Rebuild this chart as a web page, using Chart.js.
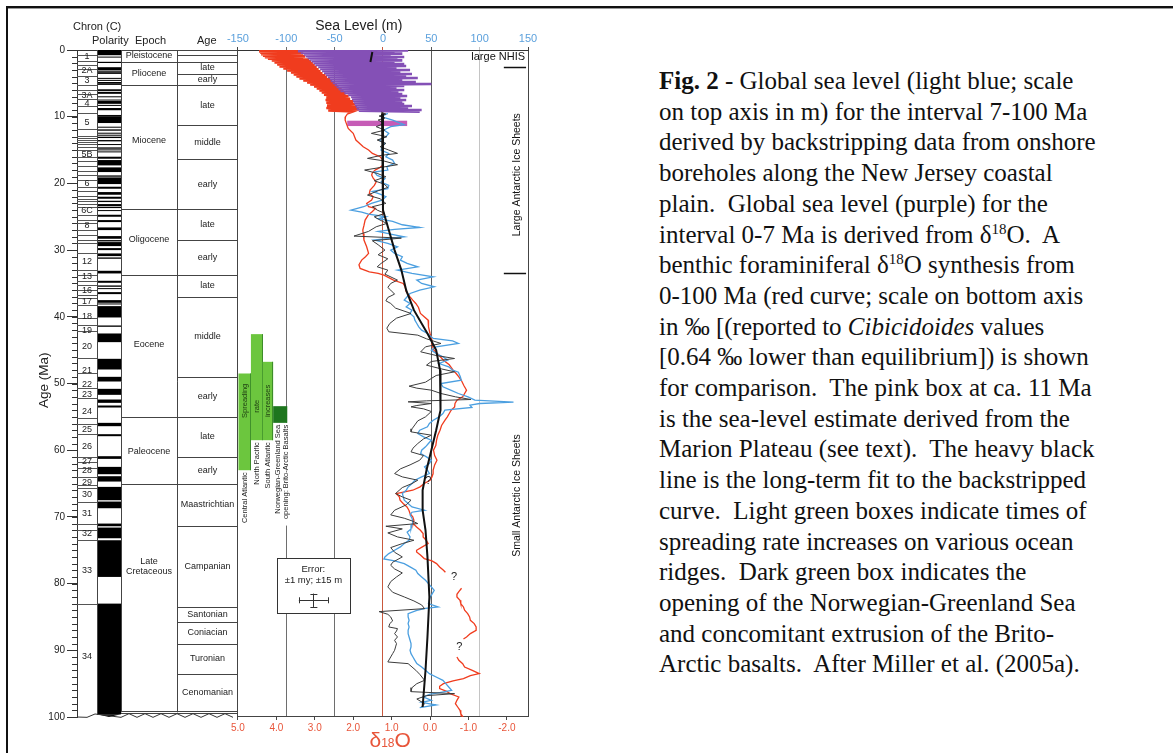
<!DOCTYPE html>
<html lang="en">
<head>
<meta charset="UTF-8">
<title>Global sea level and benthic d18O, 0-100 Ma</title>
<script src="https://cdn.jsdelivr.net/npm/chart.js"></script>
<style>
    body {
        margin: 0;
        background: #fff;
        width: 1173px;
        height: 753px;
        overflow: hidden;
        position: relative;
        font-family: "Liberation Sans", Arial, sans-serif;
    }
    #frame-top {
        position: absolute; left: 6px; top: 6px; width: 1167px; height: 2px; background: #111;
        border-bottom: 1px solid #999;
    }
    #frame-left {
        position: absolute; left: 6px; top: 6px; width: 2px; height: 747px; background: #111;
    }
    #chart-box {
        position: absolute; left: 0; top: 0; width: 620px; height: 753px;
    }
    #caption {
        position: absolute;
        left: 659px;
        top: 66px;
        font-family: "Liberation Serif", "Times New Roman", serif;
        font-size: 25px;
        line-height: 30.7px;
        color: #111;
        white-space: nowrap;
    }
    #caption sup {
        font-size: 15px;
        line-height: 0;
        vertical-align: 9px;
    }
</style>
</head>
<body>
<div id="frame-top"></div>
<div id="frame-left"></div>
<div id="chart-box"><canvas id="chart"></canvas></div>

<div id="caption">
<b>Fig. 2</b> - Global sea level (light blue; scale<br>
on top axis in m) for the interval 7-100 Ma<br>
derived by backstripping data from onshore<br>
boreholes along the New Jersey coastal<br>
plain.&nbsp; Global sea level (purple) for the<br>
interval 0-7 Ma is derived from &delta;<sup>18</sup>O.&nbsp; A<br>
benthic foraminiferal &delta;<sup>18</sup>O synthesis from<br>
0-100 Ma (red curve; scale on bottom axis<br>
in &permil; [(reported to <i>Cibicidoides</i> values<br>
[0.64 &permil; lower than equilibrium]) is shown<br>
for comparison.&nbsp; The pink box at ca. 11 Ma<br>
is the sea-level estimate derived from the<br>
Marion Plateau (see text).&nbsp; The heavy black<br>
line is the long-term fit to the backstripped<br>
curve.&nbsp; Light green boxes indicate times of<br>
spreading rate increases on various ocean<br>
ridges.&nbsp; Dark green box indicates the<br>
opening of the Norwegian-Greenland Sea<br>
and concomitant extrusion of the Brito-<br>
Arctic basalts.&nbsp; After Miller et al. (2005a).
</div>

<script>
// ---------- axis ticks ----------
const ageTicks = [0, 10, 20, 30, 40, 50, 60, 70, 80, 90, 100];
const seaTicks = [-150, -100, -50, 0, 50, 100, 150];
const d18OTicks = [5, 4, 3, 2, 1, 0, -1, -2];

// ---------- time scale (Ma) ----------
const epochNames = ['Pleistocene', 'Pliocene', 'Miocene', 'Oligocene', 'Eocene', 'Paleocene', 'Late|Cretaceous'];
const epochBounds = [0, 1.8, 5.3, 23.8, 33.7, 55.0, 65.0, 99.1];
const epochLabelAge = [0.9, 3.55, 13.6, 28.4, 44.2, 60.2, 77.4];

const stageNames = ['', '', 'late', 'early', 'late', 'middle', 'early', 'late', 'early', 'late', 'middle',
    'early', 'late', 'early', 'Maastrichtian', 'Campanian', 'Santonian', 'Coniacian', 'Turonian', 'Cenomanian'];
const stageBounds = [0, 0.8, 1.8, 3.6, 5.3, 11.2, 16.4, 23.8, 28.5, 33.7, 37.0, 49.0, 55.0, 61.0, 65.0,
    71.3, 83.5, 85.8, 89.0, 93.5, 99.1];

const chronNames = ['1', '2A', '3', '3A', '4', '5', '5B', '6', '6C', '8', '12', '13', '16', '17', '18', '19',
    '20', '21', '22', '23', '24', '25', '26', '27', '28', '29', '30', '31', '32', '33', '34'];
const chronLabelAge = [1.0, 3.15, 4.65, 6.75, 8.0, 10.9, 15.6, 20.0, 24.1, 26.3, 31.7, 33.9, 36.0, 37.7, 39.9,
    42.0, 44.5, 48.0, 50.1, 51.6, 54.2, 56.9, 59.5, 61.7, 63.1, 64.9, 66.7, 69.5, 72.5, 78.1, 91.0];
const chronLines = [0.7, 1.7, 2.3, 2.8, 3.9, 5.3, 6.0, 6.6, 7.4, 8.4, 9.5, 11.8, 12.9, 13.2, 13.5, 13.8, 14.1,
    14.5, 15.0, 16.0, 16.7, 17.4, 18.1, 18.8, 19.5, 20.6, 21.2, 21.9, 22.4, 22.7, 23.1, 23.6, 24.7, 25.5, 25.9,
    27.0, 27.7, 28.5, 29.0, 30.5, 33.0, 33.7, 34.7, 35.2, 36.0, 36.7, 37.2, 38.2, 40.2, 41.2, 42.2, 46.2, 48.5,
    50.7, 52.2, 55.2, 56.0, 57.5, 61.0, 61.7, 62.7, 64.0, 65.2, 65.7, 67.7, 71.0, 72.0, 73.5, 83.0];
// normal polarity intervals (black)
const normalPolarity = [[0, 0.78], [0.99, 1.07], [1.77, 1.95], [2.58, 3.04], [3.11, 3.22], [3.33, 3.58],
    [4.18, 4.29], [4.48, 4.62], [4.80, 4.89], [4.98, 5.23], [5.89, 6.14], [6.27, 6.57], [6.94, 7.09],
    [7.43, 7.56], [7.65, 8.07], [8.23, 8.26], [8.70, 9.03], [9.74, 9.88], [9.92, 10.95], [11.5, 11.6],
    [11.9, 12.1], [12.4, 12.5], [12.7, 12.8], [13.0, 13.2], [13.5, 13.7], [14.1, 14.2], [14.6, 14.8],
    [14.9, 15.0], [15.2, 15.3], [16.0, 16.3], [16.5, 17.3], [17.6, 18.3], [18.8, 19.0], [19.1, 20.1],
    [20.5, 20.8], [21.3, 21.7], [22.0, 22.3], [22.6, 22.8], [23.1, 23.4], [23.5, 23.7], [24.0, 24.1],
    [24.7, 25.0], [25.5, 25.8], [26.6, 27.0], [27.9, 28.3], [28.5, 28.7], [28.8, 29.4], [29.7, 30.0],
    [30.5, 30.9], [31.1, 31.3], [33.1, 33.5], [34.6, 34.9], [35.3, 35.5], [35.7, 35.8], [36.3, 36.6],
    [37.5, 37.9], [38.0, 38.1], [38.4, 40.1], [41.3, 41.5], [42.5, 43.8], [46.3, 47.9], [49.0, 49.7],
    [50.8, 51.7], [52.4, 52.9], [53.3, 53.6], [55.9, 56.4], [57.6, 57.9], [60.9, 61.3], [62.5, 63.6],
    [63.9, 64.7], [65.5, 67.5], [67.7, 68.7], [71.0, 71.4], [71.6, 73.2], [73.5, 79.0], [83.0, 99.6]];

// ---------- curves: [age Ma, value] ----------
// purple: sea level (m) 0-9 Ma from d18O
const seaLevelPurple = [[0.0, -60], [0.08, 26], [0.18, -88], [0.3, 12], [0.42, -85], [0.55, 20], [0.68, -82],
    [0.8, 8], [0.92, -80], [1.05, 22], [1.18, -78], [1.3, 15], [1.42, -76], [1.55, 20], [1.68, -74], [1.82, 12],
    [1.95, -72], [2.1, 22], [2.25, -70], [2.4, 24], [2.55, -67], [2.7, 14], [2.85, -65], [3.0, 28], [3.15, -63],
    [3.3, 18], [3.45, -61], [3.6, 30], [3.75, -59], [3.9, 24], [4.05, -57], [4.2, 36], [4.35, -55], [4.5, 20],
    [4.65, -54], [4.8, 34], [4.95, -52], [5.1, 50], [5.25, -50], [5.4, 22], [5.55, -48], [5.7, 14], [5.85, -46],
    [6.0, 22], [6.15, -44], [6.3, 16], [6.45, -40], [6.6, 20], [6.75, -36], [6.9, 25], [7.05, -33], [7.2, 18],
    [7.35, -32], [7.5, 24], [7.65, -31], [7.8, 20], [7.95, -30], [8.1, 22], [8.25, -29], [8.4, 30], [8.55, -28],
    [8.7, 26], [8.85, -27], [9.0, 40], [9.1, -25], [9.25, 38]];

// red: benthic d18O (per mil)
const benthicO18 = [[0.0, 4.45], [0.1, 3.4], [0.2, 4.45], [0.3, 3.35], [0.42, 4.42], [0.52, 3.3], [0.62, 4.4],
    [0.72, 3.4], [0.85, 4.35], [0.95, 3.25], [1.08, 4.3], [1.2, 3.3], [1.32, 4.22], [1.45, 3.15], [1.58, 4.12],
    [1.7, 3.1], [1.85, 4.05], [2.0, 3.05], [2.15, 3.98], [2.3, 3.0], [2.45, 3.92], [2.6, 2.95], [2.75, 3.82],
    [2.9, 2.9], [3.05, 3.72], [3.2, 2.85], [3.35, 3.62], [3.5, 2.8], [3.65, 3.55], [3.8, 2.72], [3.95, 3.48],
    [4.1, 2.68], [4.25, 3.4], [4.4, 2.6], [4.55, 3.3], [4.7, 2.55], [4.85, 3.2], [5.0, 2.48], [5.15, 3.12],
    [5.3, 2.42], [5.45, 3.02], [5.6, 2.38], [5.75, 2.95], [5.9, 2.3], [6.05, 2.88], [6.2, 2.25], [6.35, 2.82],
    [6.5, 2.2], [6.7, 2.76], [6.9, 2.12], [7.1, 2.7], [7.3, 2.08], [7.5, 2.72], [7.7, 2.0], [7.9, 2.7],
    [8.1, 1.95], [8.3, 2.68], [8.5, 1.9], [8.7, 2.7], [8.9, 1.85], [9.05, 2.65], [9.2, 2.0],
    [9.5, 2.14], [10.0, 2.2], [10.5, 2.21], [11.0, 2.18], [11.75, 2.13], [12.5, 2.0], [13.5, 1.93], [14.5, 1.74],
    [15.0, 1.6], [15.5, 1.5], [16.0, 1.3], [16.6, 1.22], [17.25, 1.22], [17.6, 1.3], [18.0, 1.43], [18.4, 1.5],
    [18.75, 1.52], [19.2, 1.48], [19.75, 1.4], [20.3, 1.45], [21.0, 1.56], [21.5, 1.58], [22.0, 1.48],
    [22.5, 1.52], [23.0, 1.65], [23.5, 1.6], [23.75, 1.42], [24.2, 1.5], [24.75, 1.61], [25.5, 1.69],
    [26.3, 1.72], [27.0, 1.75], [27.5, 1.74], [28.5, 1.72], [29.5, 1.65], [30.5, 1.6], [31.0, 1.68],
    [31.5, 1.78], [32.2, 1.85], [32.75, 1.82], [33.25, 1.58], [33.5, 1.35], [33.75, 1.2], [34.2, 1.05],
    [34.5, 0.95], [35.0, 0.7], [35.5, 0.65], [36.25, 0.62], [37.0, 0.52], [37.5, 0.45], [38.0, 0.37],
    [38.6, 0.3], [39.5, 0.25], [40.5, 0.05], [41.5, 0.04], [42.5, 0.0], [43.5, -0.05], [44.2, -0.05],
    [45.0, -0.1], [45.7, -0.22], [46.5, -0.35], [47.2, -0.5], [48.0, -0.6], [48.5, -0.68], [49.0, -0.75],
    [49.6, -0.82], [50.3, -0.88], [51.0, -0.95], [51.5, -0.9], [52.0, -0.85], [52.5, -0.7], [53.0, -0.65],
    [53.5, -0.64], [54.0, -0.55], [54.5, -0.5], [55.0, -0.45], [55.5, -0.39], [56.3, -0.3], [57.0, -0.26],
    [57.8, -0.2], [58.5, -0.17], [59.3, -0.15], [60.0, -0.09], [60.8, -0.12], [61.5, -0.18], [62.2, -0.12],
    [63.0, -0.08], [63.5, -0.08], [64.0, -0.05], [64.5, 0.0], [65.0, 0.15], [65.5, 0.26], [66.0, 0.45],
    [66.5, 0.88], [67.0, 0.8], [67.5, 0.78], [68.0, 0.7], [68.5, 0.6], [69.0, 0.55], [69.5, 0.52], [70.0, 0.45],
    [70.5, 0.42], [71.0, 0.44], [71.5, 0.35], [72.0, 0.25], [72.5, 0.18], [73.0, 0.18], [73.5, 0.1],
    [74.0, 0.05], [74.5, 0.2], [75.0, 0.35], [75.25, 0.35], [75.7, 0.25], [76.25, 0.15], [76.6, -0.05],
    [77.0, -0.17], [77.5, -0.25], [78.0, -0.35], [78.3, -0.4], [79.5, null],
    [80.7, -0.82], [81.2, -0.75], [81.6, -0.7], [82.0, -0.7], [82.5, -0.78], [83.0, -0.8], [83.5, -0.87],
    [84.0, -0.9], [84.5, -0.98], [85.0, -1.03], [85.5, -1.05], [86.0, -1.15], [86.5, -1.2], [87.0, -1.2],
    [87.5, -1.05], [88.0, -0.95], [88.3, -0.87], [89.6, null],
    [91.0, -0.7], [91.5, -0.75], [92.0, -0.85], [92.5, -0.9], [93.0, -1.1], [93.5, -1.28], [93.8, -1.05],
    [94.25, -0.87], [94.6, -0.6], [95.0, -0.35], [95.4, -0.25], [95.75, -0.25], [96.2, -0.45], [96.5, -0.52],
    [97.0, -0.75], [97.5, -0.7], [98.0, -0.66], [98.5, -0.72], [99.0, -0.78], [99.5, -0.8], [100.0, -0.86]];

// light blue: backstripped global sea level (m), New Jersey
const seaLevelNJ = [[9.5, 5], [10.0, -2], [10.5, 10], [11.2, 22], [11.5, 8], [12.0, 1], [12.5, 6], [13.0, 3],
    [13.5, -4], [14.0, 2], [14.5, -1], [15.0, -2], [15.5, 6], [16.0, 3], [16.5, 10], [17.0, 12], [17.5, 4],
    [18.0, 5], [18.3, -9], [18.8, -6], [19.3, 2], [19.8, -2], [20.3, 6], [20.8, 5], [21.2, -11], [21.6, -3],
    [22.0, 3], [22.5, -1], [23.0, -12], [23.5, -20], [24.0, -33], [24.3, -22], [24.6, -15], [25.0, 3],
    [25.3, -5], [25.7, 10], [26.2, 20], [26.6, 38], [26.9, 12], [27.2, -5], [27.6, 8], [28.0, 22], [28.5, -9],
    [29.0, 5], [29.5, 15], [30.0, 8], [30.5, 12], [31.0, 20], [31.5, 18], [32.0, 25], [32.5, 36], [33.0, 15],
    [33.5, 30], [34.0, 52], [34.5, 35], [35.0, 40], [35.5, 53], [36.0, 38], [36.5, 28], [37.0, 25],
    [37.5, 22], [38.0, 28], [38.5, 24], [39.0, 30], [39.5, 28], [40.0, 32], [40.5, 33], [41.0, 35],
    [41.5, 37], [42.0, 40], [42.5, 46], [43.25, 52], [43.6, 72], [44.0, 78], [44.5, 55], [45.0, 50],
    [45.5, 55], [46.0, 62], [46.5, 67], [47.0, 58], [47.5, 68], [48.0, 72], [48.3, 78], [49.0, 80],
    [49.5, 81], [50.0, 60], [50.5, 62], [51.0, 70], [51.5, 78], [52.0, 88], [52.5, 95], [52.8, 135],
    [53.0, 100], [53.25, 90], [53.6, 92], [54.0, 64], [54.5, 62], [55.0, 58], [55.5, 52], [56.0, 48],
    [56.5, 46], [57.0, 38], [57.5, 36], [58.0, 42], [58.5, 50], [59.0, 47], [59.5, 44], [60.0, 40],
    [60.5, 39], [61.0, 45], [61.5, 50], [62.0, 48], [62.5, 43], [63.0, 46], [63.5, 48], [64.0, 40],
    [64.5, 33], [65.0, 30], [65.5, 26], [66.0, 24], [66.5, 20], [67.0, 21], [67.5, 22], [68.0, 26],
    [68.5, 30], [69.0, 43], [69.3, 30], [69.7, 28], [70.2, 30], [70.7, 31], [71.2, 30], [71.8, 29],
    [72.3, 25], [73.0, 28], [73.5, 27], [74.0, 22], [74.5, 18], [75.0, 12], [75.5, 6], [76.0, 2], [76.3, 1],
    [76.6, 12], [77.0, 22], [77.5, 28], [78.0, 34], [78.5, 36], [79.0, 40], [79.5, 44], [80.0, 47],
    [80.5, 50], [81.0, 53], [81.5, 51], [82.0, 49], [82.5, 48], [83.0, 47], [83.5, 57], [83.7, 44],
    [84.0, 35], [84.5, 26], [85.0, 26], [85.5, 27], [86.0, 26], [86.5, 27], [87.0, 26], [87.5, 26],
    [88.0, 27], [88.5, 28], [89.0, 29], [89.5, 29], [90.0, 28], [90.5, 29], [91.0, 31], [91.5, 33],
    [92.0, 35], [92.5, 40], [93.0, 44], [93.5, 48], [94.0, 55], [94.5, 62], [95.0, 65], [95.5, 68],
    [96.0, 71], [96.3, 60], [96.6, 48], [97.0, 42], [97.5, 50], [97.8, 40], [98.2, 55], [98.6, 38]];

// thin black: backstripped sea level (m)
const backstripped = [[9.3, -2], [9.6, 3], [9.9, -4], [10.2, 2], [10.5, -5], [11.0, 1], [11.5, -7], [12.0, 2],
    [12.5, -12], [13.0, 4], [13.5, -6], [14.0, 3], [14.5, -3], [15.0, 6], [15.5, 15], [15.8, -2], [16.25, -16],
    [16.6, 0], [17.2, 15], [17.6, -2], [18.0, -19], [18.5, -6], [19.0, 3], [19.6, -9], [20.1, 1], [20.6, 5],
    [21.1, -5], [21.75, -16], [22.3, -3], [23.0, 3], [23.5, -11], [24.0, -6], [24.5, 2], [25.0, -9],
    [25.5, -3], [26.0, 4], [26.5, -7], [27.2, -15], [27.9, -30], [28.2, 19], [28.6, -11], [29.2, -5],
    [30.0, 2], [30.7, -5], [31.3, 5], [32.0, -2], [32.5, -6], [33.0, 5], [33.6, 2], [34.5, 15], [35.0, 8],
    [35.6, 5], [36.0, 8], [36.6, 12], [37.1, 5], [37.6, 3], [38.0, 8], [38.7, 13], [39.5, 29], [40.2, 14],
    [41.0, 7], [41.7, 4], [42.25, 6], [42.75, 36], [43.3, 45], [44.0, 60], [44.5, 44], [45.25, 39],
    [45.8, 55], [46.25, 74], [46.7, 50], [47.25, 45], [47.8, 60], [48.25, 74], [48.8, 55], [49.25, 50],
    [49.8, 44], [50.4, 27], [50.7, 35], [51.0, 50], [51.5, 60], [52.0, 75], [52.4, 91], [52.6, 45],
    [52.75, 26], [53.0, 50], [53.3, 35], [53.5, 29], [53.8, 42], [54.2, 50], [55.0, 44], [55.6, 36],
    [56.2, 33], [56.8, 30], [57.25, 29], [57.75, 50], [58.3, 42], [59.0, 36], [59.7, 31], [60.25, 29],
    [60.8, 42], [61.5, 38], [62.2, 28], [62.8, 18], [63.5, 12], [64.0, 20], [64.5, 36], [65.0, 30],
    [65.6, 20], [66.5, 13], [67.0, 20], [67.5, 29], [68.2, 24], [69.0, 12], [69.7, 8], [70.2, 22],
    [70.6, 30], [71.0, 36], [71.4, 3], [71.8, 20], [72.4, 5], [73.0, 15], [73.5, 32], [74.0, 20],
    [74.6, 8], [75.3, 12], [76.0, 20], [76.8, 10], [77.25, 8], [77.8, 12], [78.4, 20], [79.0, 14],
    [79.7, 8], [80.5, 5], [81.3, 10], [82.0, 22], [82.6, 32], [83.2, 40], [83.75, 43], [84.2, -4],
    [84.6, 5], [85.0, 8], [85.6, 10], [86.0, 7], [86.5, 6], [86.75, 15], [87.1, 14], [87.5, 12], [88.0, 15],
    [88.5, 12], [89.0, 14], [89.5, 13], [90.0, 12], [90.5, 10], [91.0, 8], [91.75, 5], [92.0, 26],
    [92.5, 30], [93.0, 34], [93.6, 38], [94.5, 43], [95.0, 35], [95.6, 30], [96.2, 29], [96.5, 74],
    [96.8, 45], [97.3, 35], [98.0, 43], [98.5, 40]];

// heavy black: long-term fit (m)
const longTermFit = [[0.3, -11], [1.8, -13], [5.0, null], [9.5, -1], [12, 0], [15, 0], [18, 0], [21, 0],
    [24, 0], [27, 6], [30, 12], [33, 19], [36, 24], [39, 32], [42.5, 46], [45, 55], [48, 59], [51, 60],
    [54, 59], [57, 55], [60, 50], [63, 45], [66, 41], [69, 41], [72, 44], [76, 46], [82, 48], [88, 46],
    [93, 44], [98.5, 41]];

// Marion Plateau estimate (pink box)
const marionAge = [10.6, 11.4];
const marionSea = [-37, 25];

// spreading-rate increases (light green) and N-Greenland Sea opening (dark green)
const spreadNames = ['Central Atlantic', 'North Pacific', 'South Atlantic'];
const spreadInner = ['Spreading', 'rate', 'increases'];
const spreadAges = [[48.5, 63.0], [42.6, 58.5], [46.75, 58.5]];
const openingAges = [53.4, 55.9];

// ice-sheet boundaries
const nhisAge = 2.5;
const antarcticAge = 33.5;

// ---------- layout (pixels / positions, not data) ----------
const colEdges = [0, 20, 44, 100, 161];      // chron | polarity | epoch | age, from chart left
const spreadCols = [[-149.5, -136.6], [-136.6, -124.4], [-124.4, -113.6], [-113.6, -99]]; // m
const errBox = { sea: [-110, -34], age: [76.2, 84.5], barSea: -72, barAge: 82.5 };
const seaGridColors = { '-150': '#444', '-100': '#6e6e6e', '-50': '#6e6e6e', '0': '#c9583c', '50': '#5a5a5a', '100': '#c4c4c4', '150': '#444' };

const FONT = '"Liberation Sans", Arial, sans-serif';
Chart.defaults.font.family = FONT;

function toPoints(pairs) {
    return pairs.map(([age, v]) => v === null ? { x: null, y: null } : { x: v, y: age });
}

function txt(ctx, s, x, y, size, color, align, rot) {
    ctx.save();
    ctx.font = size + 'px ' + FONT;
    ctx.fillStyle = color || '#222';
    ctx.textAlign = align || 'center';
    ctx.textBaseline = 'middle';
    ctx.translate(x, y);
    if (rot) ctx.rotate(rot);
    ctx.fillText(s, 0, 0);
    ctx.restore();
}

function hline(ctx, x1, x2, y) {
    ctx.beginPath();
    ctx.moveTo(x1, Math.round(y) + 0.5);
    ctx.lineTo(x2, Math.round(y) + 0.5);
    ctx.stroke();
}
function vline(ctx, x, y1, y2) {
    ctx.beginPath();
    ctx.moveTo(Math.round(x) + 0.5, y1);
    ctx.lineTo(Math.round(x) + 0.5, y2);
    ctx.stroke();
}

const figurePlugin = {
    id: 'figure',
    beforeDatasetsDraw(chart) {
        const { ctx, chartArea: ca, scales } = chart;
        const Y = a => scales.y.getPixelForValue(a);
        const X = m => scales.xs.getPixelForValue(m);
        const cx = colEdges.map(e => ca.left + e);
        ctx.save();

        // --- blank the grid behind the rotated spreading labels
        ctx.fillStyle = '#fff';
        ctx.fillRect(X(-150) + 1, Y(55.9), X(-97) - X(-150) - 1, Y(71.3) - Y(55.9));

        // --- polarity
        ctx.fillStyle = '#000';
        normalPolarity.forEach(([a, b]) => {
            ctx.fillRect(cx[1], Y(a), cx[2] - cx[1], Math.max(1, Y(b) - Y(a)));
        });
        ctx.beginPath();
        ctx.moveTo(cx[1], Y(99.6));
        ctx.lineTo((cx[1] + cx[2]) / 2, Y(100));
        ctx.lineTo(cx[2], Y(99.6));
        ctx.fill();

        // --- column frames
        ctx.strokeStyle = '#444';
        ctx.lineWidth = 1;
        vline(ctx, cx[1], Y(0), Y(99.7));
        vline(ctx, cx[2], Y(0), Y(99.3));
        vline(ctx, cx[3], Y(0), Y(99.3));

        // chron lines and labels
        ctx.strokeStyle = '#555';
        chronLines.forEach(a => hline(ctx, cx[0], cx[1], Y(a)));
        chronNames.forEach((n, i) => txt(ctx, n, (cx[0] + cx[1]) / 2, Y(chronLabelAge[i]), 9, '#222'));

        // epochs
        ctx.strokeStyle = '#444';
        epochBounds.forEach(a => hline(ctx, cx[2], cx[3], Y(a)));
        epochNames.forEach((n, i) => {
            const parts = n.split('|');
            parts.forEach((p, k) => txt(ctx, p, (cx[2] + cx[3]) / 2,
                Y(epochLabelAge[i]) + (k - (parts.length - 1) / 2) * 10, 9, '#222'));
        });

        // stages
        stageBounds.forEach(a => hline(ctx, cx[3], cx[4], Y(a)));
        stageNames.forEach((n, i) => {
            if (n) txt(ctx, n, (cx[3] + cx[4]) / 2, (Y(stageBounds[i]) + Y(stageBounds[i + 1])) / 2, 9, '#222');
        });
        hline(ctx, cx[2], cx[4], Y(99.45));

        // unconformity at base
        ctx.strokeStyle = '#333';
        ctx.beginPath();
        ctx.moveTo(cx[0], Y(100));
        ctx.lineTo(cx[0] + 10, Y(100.05));
        ctx.lineTo(cx[1] - 2, Y(99.55));
        let up = false;
        for (let x = cx[2]; x <= cx[4]; x += 8) {
            ctx.lineTo(x, up ? Y(99.5) : Y(100.05));
            up = !up;
        }
        ctx.stroke();

        // minor age ticks
        ctx.strokeStyle = '#333';
        for (let a = 0; a <= 100; a++) hline(ctx, ca.left - 5, ca.left, Y(a));

        // --- spreading boxes
        spreadAges.forEach(([a, b], i) => {
            const [m1, m2] = spreadCols[i];
            ctx.fillStyle = '#6cc63e';
            ctx.fillRect(X(m1), Y(a), X(m2) - X(m1), Y(b) - Y(a));
            ctx.strokeStyle = '#3d8c2a';
            vline(ctx, X(m2) - 1, Y(a), Y(b));
            txt(ctx, spreadInner[i], (X(m1) + X(m2)) / 2, i === 1 ? Y(53.4) : Y(52.6), 7.5, '#1d3d12', 'center', -Math.PI / 2);
            txt(ctx, spreadNames[i], (X(m1) + X(m2)) / 2, Y(b) + 2, 7.5, '#222', 'right', -Math.PI / 2);
        });
        const [o1, o2] = spreadCols[3];
        ctx.fillStyle = '#1e761e';
        ctx.fillRect(X(o1), Y(openingAges[0]), X(o2) - X(o1), Y(openingAges[1]) - Y(openingAges[0]));
        txt(ctx, 'Norwegian-Greenland Sea', X(o1) + 5, Y(openingAges[1]) + 2, 7.5, '#222', 'right', -Math.PI / 2);
        txt(ctx, 'opening: Brito-Arctic Basalts', X(o1) + 13, Y(openingAges[1]) + 2, 7.5, '#222', 'right', -Math.PI / 2);

        // --- error box
        const bx1 = X(errBox.sea[0]), bx2 = X(errBox.sea[1]);
        const by1 = Y(errBox.age[0]), by2 = Y(errBox.age[1]);
        ctx.fillStyle = '#fff';
        ctx.fillRect(bx1, by1, bx2 - bx1, by2 - by1);
        ctx.strokeStyle = '#333';
        ctx.strokeRect(Math.round(bx1) + 0.5, Math.round(by1) + 0.5, Math.round(bx2 - bx1), Math.round(by2 - by1));
        txt(ctx, 'Error:', (bx1 + bx2) / 2, Y(77.8), 9.5, '#222');
        txt(ctx, '\u00b11 my; \u00b115 m', (bx1 + bx2) / 2, Y(79.5), 9.5, '#222');
        const ex = X(errBox.barSea), ey = Y(errBox.barAge);
        ctx.strokeStyle = '#333';
        hline(ctx, X(errBox.barSea - 15), X(errBox.barSea + 15), ey);
        vline(ctx, ex, Y(errBox.barAge - 1), Y(errBox.barAge + 1));
        vline(ctx, X(errBox.barSea - 15), ey - 3, ey + 3);
        vline(ctx, X(errBox.barSea + 15), ey - 3, ey + 3);
        hline(ctx, ex - 3, ex + 4, Y(errBox.barAge - 1));
        hline(ctx, ex - 3, ex + 4, Y(errBox.barAge + 1));

        // --- Marion Plateau box
        ctx.fillStyle = '#c65cb6';
        ctx.fillRect(X(marionSea[0]), Y(marionAge[0]), X(marionSea[1]) - X(marionSea[0]), Y(marionAge[1]) - Y(marionAge[0]));

        // --- plot bottom border
        ctx.strokeStyle = '#444';
        hline(ctx, X(-150), X(150), ca.bottom - 1);
        ctx.restore();
    },
    afterDraw(chart) {
        const { ctx, chartArea: ca, scales } = chart;
        const Y = a => scales.y.getPixelForValue(a);
        const X = m => scales.xs.getPixelForValue(m);
        ctx.save();

        // ice sheet notes
        txt(ctx, 'large NHIS', X(147), Y(1.05), 11, '#111', 'right');
        ctx.strokeStyle = '#111';
        ctx.lineWidth = 1.5;
        hline(ctx, X(125), X(148), Y(nhisAge));
        hline(ctx, X(125), X(148), Y(antarcticAge));
        txt(ctx, 'Large Antarctic Ice Sheets', X(138.5), Y(18.7), 10.5, '#111', 'center', -Math.PI / 2);
        txt(ctx, 'Small Antarctic Ice Sheets', X(138.5), Y(66.8), 10.5, '#111', 'center', -Math.PI / 2);
        txt(ctx, '?', X(47), Y(64.6), 11, '#222');
        txt(ctx, '?', X(73.5), Y(79), 11, '#222');
        txt(ctx, '?', X(79), Y(89.5), 11, '#222');

        // headers
        txt(ctx, 'Chron (C)', 73, 27, 11, '#222', 'left');
        txt(ctx, 'Polarity', 92, 41, 11, '#222', 'left');
        txt(ctx, 'Epoch', 135, 41, 11, '#222', 'left');
        txt(ctx, 'Age', 197, 41, 11, '#222', 'left');
        txt(ctx, 'Sea Level (m)', X(-25), 26, 14, '#222');
        txt(ctx, 'Age (Ma)', 44, Y(49.5), 13.5, '#222', 'center', -Math.PI / 2);

        // delta 18 O title
        ctx.fillStyle = '#e8553a';
        ctx.textBaseline = 'alphabetic';
        ctx.textAlign = 'left';
        const bx = X(-14), by = 747;
        ctx.font = '21px ' + FONT;
        ctx.fillText('\u03b4', bx, by);
        let w = ctx.measureText('\u03b4').width;
        ctx.font = '12px ' + FONT;
        ctx.fillText('18', bx + w, by);
        w += ctx.measureText('18').width;
        ctx.font = '21px ' + FONT;
        ctx.fillText('O', bx + w, by);
        ctx.restore();
    }
};

const lineStyle = { showLine: true, pointRadius: 0, pointHoverRadius: 0, tension: 0, fill: false, yAxisID: 'y' };

new Chart(document.getElementById('chart').getContext('2d'), {
    type: 'scatter',
    data: {
        datasets: [
            { ...lineStyle, label: 'Long-term fit', data: toPoints(longTermFit), xAxisID: 'xs', borderColor: '#111', borderWidth: 2, order: 0 },
            { ...lineStyle, label: 'Backstripped', data: toPoints(backstripped), xAxisID: 'xs', borderColor: '#3c3c3c', borderWidth: 1, order: 1 },
            { ...lineStyle, label: 'Sea level 7-100 Ma', data: toPoints(seaLevelNJ), xAxisID: 'xs', borderColor: '#4b9fe0', borderWidth: 1.3, order: 2 },
            { ...lineStyle, label: 'Sea level 0-7 Ma', data: toPoints(seaLevelPurple), xAxisID: 'xs', borderColor: '#8450b6', borderWidth: 2.6, order: 3 },
            {
                ...lineStyle, label: 'Benthic d18O', data: toPoints(benthicO18), xAxisID: 'xd', borderColor: '#f03c1e', borderWidth: 1.3, order: 4,
                // the dense Plio-Pleistocene record is drawn heavier so it reads as a band
                segment: { borderWidth: c => (c.p0.parsed.y < 9.3 ? 2.6 : 1.3) }
            }
        ]
    },
    options: {
        animation: false,
        responsive: true,
        maintainAspectRatio: false,
        layout: { padding: { left: 0, right: 92, top: 0, bottom: 0 } },
        plugins: { legend: { display: false }, tooltip: { enabled: false } },
        scales: {
            y: {
                type: 'linear', position: 'left', reverse: true, min: 0, max: 100,
                afterBuildTicks: s => { s.ticks = ageTicks.map(v => ({ value: v })); },
                ticks: { font: { size: 10 }, color: '#222', padding: 2, autoSkip: false },
                grid: { drawOnChartArea: false, tickLength: 10, color: '#333' },
                border: { color: '#333' },
                afterFit: s => { s.width = 77; s.paddingTop = 0; s.paddingBottom = 0; }
            },
            xs: {
                type: 'linear', position: 'top', min: -316.5, max: 150,
                afterBuildTicks: s => { s.ticks = seaTicks.map(v => ({ value: v })); },
                ticks: { font: { size: 11 }, color: '#5ba0dc', padding: 1, autoSkip: false, maxRotation: 0, callback: v => String(v) },
                grid: { color: c => seaGridColors[String(c.tick ? c.tick.value : 0)] || '#666', tickLength: 3 },
                border: { color: '#333' },
                afterFit: s => { s.height = 50; s.paddingLeft = 0; s.paddingRight = 0; }
            },
            xd: {
                type: 'linear', position: 'bottom', reverse: true, min: -2.55, max: 9.19,
                afterBuildTicks: s => { s.ticks = d18OTicks.map(v => ({ value: v })); },
                ticks: { font: { size: 10 }, color: '#e8553a', padding: 2, autoSkip: false, maxRotation: 0, callback: v => v.toFixed(1) },
                grid: { drawOnChartArea: false, tickLength: 3, color: '#444' },
                border: { display: false },
                afterFit: s => { s.height = 36; s.paddingLeft = 0; s.paddingRight = 0; }
            }
        }
    },
    plugins: [figurePlugin]
});
</script>
</body>
</html>
